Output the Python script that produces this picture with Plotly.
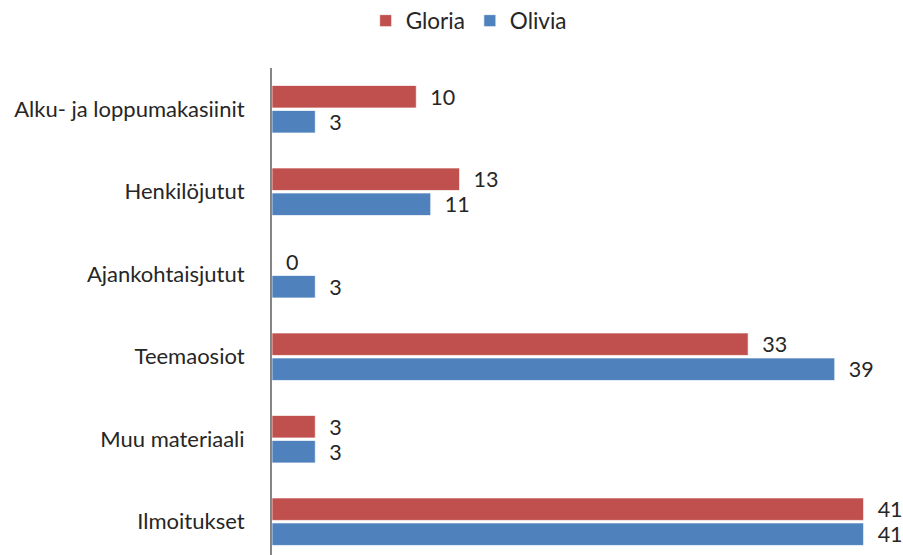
import plotly.graph_objects as go

categories = ["Alku- ja loppumakasiinit", "Henkilöjutut", "Ajankohtaisjutut",
              "Teemaosiot", "Muu materiaali", "Ilmoitukset"]
gloria = [10, 13, 0, 33, 3, 41]
olivia = [3, 11, 3, 39, 3, 41]

FONT = "Lato"
TXT = "#262626"
PAD = "\u00a0\u00a0"

fig = go.Figure()
fig.add_trace(go.Bar(y=categories, x=gloria, name="Gloria", orientation="h",
                     marker=dict(color="#C0504D", line=dict(color="rgba(255,255,255,0.7)", width=1)),
                     text=[PAD + str(v) for v in gloria], textposition="outside",
                     constraintext="none",
                     textfont=dict(family=FONT, size=21.5, color=TXT), cliponaxis=False))
fig.add_trace(go.Bar(y=categories, x=olivia, name="Olivia", orientation="h",
                     marker=dict(color="#4F81BD", line=dict(color="rgba(255,255,255,0.7)", width=1)),
                     text=[PAD + str(v) for v in olivia], textposition="outside",
                     constraintext="none",
                     textfont=dict(family=FONT, size=21.5, color=TXT), cliponaxis=False))

fig.update_layout(
    width=903, height=555,
    margin=dict(l=272, r=0, t=68, b=0),
    paper_bgcolor="white", plot_bgcolor="white",
    barmode="group", bargap=0.3935, bargroupgap=0.1,
    font=dict(family=FONT, size=22, color=TXT),
    showlegend=True,
    legend=dict(orientation="h", xref="container", yref="container",
                x=0.519, y=1 - 21 / 555, xanchor="center", yanchor="middle",
                font=dict(family=FONT, size=22.5, color=TXT), traceorder="normal",
                itemwidth=30),
    xaxis=dict(range=[0, 43.73], showgrid=False, zeroline=False, showticklabels=False,
               showline=False, fixedrange=True),
    yaxis=dict(range=[5.404, -0.5], showgrid=False, zeroline=False,
               showline=True, linecolor="#868686", linewidth=2,
               ticks="outside", ticklen=21, tickcolor="rgba(0,0,0,0)",
               tickfont=dict(family=FONT, size=22, color=TXT)),
)

fig.write_html("out.html")
